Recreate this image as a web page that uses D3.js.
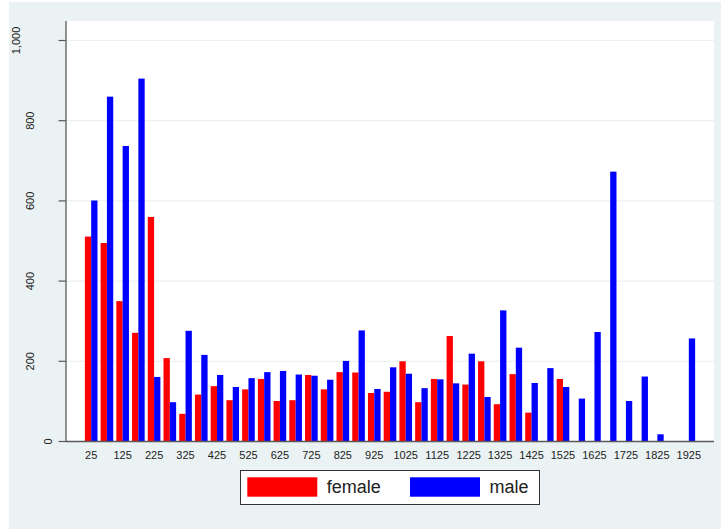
<!DOCTYPE html>
<html>
<head>
<meta charset="utf-8">
<script src="https://cdn.jsdelivr.net/npm/d3@7"></script>
<style>
  html, body { margin: 0; padding: 0; background: #ffffff; }
  svg { display: block; }
  text { font-family: "Liberation Sans", Arial, Helvetica, sans-serif; }
</style>
</head>
<body>
<svg id="chart" width="721" height="529"></svg>
<script>
// ---- data ----
const categories = [25, 75, 125, 175, 225, 275, 325, 375, 425, 475, 525, 575, 625, 675, 725, 775,
  825, 875, 925, 975, 1025, 1075, 1125, 1175, 1225, 1275, 1325, 1375, 1425, 1475, 1525, 1575,
  1625, 1675, 1725, 1775, 1825, 1875, 1925];
const female = [511, 495, 350, 271, 560, 208, 69, 117, 138, 103, 130, 156, 101, 103, 166, 130,
  173, 172, 121, 124, 200, 98, 156, 263, 142, 200, 93, 168, 72, null, 156, null,
  null, null, null, null, null, null, null];
const male = [601, 860, 737, 905, 161, 98, 276, 216, 166, 136, 158, 173, 176, 167, 164, 154,
  201, 277, 131, 185, 169, 133, 155, 145, 219, 111, 327, 234, 146, 183, 136, 107,
  273, 673, 101, 162, 18, null, 257];
const seriesNames = ["female", "male"];
const seriesColors = ["#ff0000", "#0000ff"];
const yTicks = [0, 200, 400, 600, 800, 1000];
const xTickLabels = [25, 125, 225, 325, 425, 525, 625, 725, 825, 925, 1025, 1125, 1225, 1325, 1425, 1525, 1625, 1725, 1825, 1925];

// ---- layout ----
const svg = d3.select("#chart");
const plot = { left: 66, right: 714, top: 21, bottom: 441.5 };
const bg = "#eaf2f3";
const axisColor = "#5a5a5a";
const textColor = "#222222";

svg.append("rect").attr("x", 9).attr("y", 2).attr("width", 712).attr("height", 527).attr("fill", bg);
svg.append("rect").attr("x", plot.left).attr("y", plot.top)
  .attr("width", plot.right - plot.left).attr("height", plot.bottom - plot.top).attr("fill", "#ffffff");

const y = d3.scaleLinear().domain([0, 1000]).range([plot.bottom, 40.5]);
const x = d3.scaleBand().domain(categories).range([plot.left, plot.right])
  .paddingInner(0.198).paddingOuter(1.2);
const xs = d3.scaleBand().domain(seriesNames).range([0, x.bandwidth()]);

// gridlines
svg.append("g").selectAll("line").data(yTicks.filter(d => d > 0)).join("line")
  .attr("x1", plot.left).attr("x2", plot.right)
  .attr("y1", d => y(d)).attr("y2", d => y(d))
  .attr("stroke", bg).attr("stroke-width", 1.2);

// bars
const rows = categories.map((c, i) => ({ c, vals: [female[i], male[i]] }));
const groups = svg.append("g").selectAll("g").data(rows).join("g")
  .attr("transform", d => `translate(${x(d.c)},0)`);
groups.selectAll("rect")
  .data(d => d.vals.map((v, j) => ({ v, j })).filter(e => e.v != null))
  .join("rect")
  .attr("x", e => xs(seriesNames[e.j]))
  .attr("width", xs.bandwidth())
  .attr("y", e => y(e.v))
  .attr("height", e => y(0) - y(e.v))
  .attr("fill", e => seriesColors[e.j]);

// y axis
const yAxis = svg.append("g");
yAxis.append("line").attr("x1", plot.left).attr("x2", plot.left)
  .attr("y1", plot.top).attr("y2", plot.bottom + 0.5)
  .attr("stroke", axisColor).attr("stroke-width", 1.3);
yAxis.selectAll("line.tick").data(yTicks).join("line").attr("class", "tick")
  .attr("x1", 58.5).attr("x2", plot.left)
  .attr("y1", d => y(d)).attr("y2", d => y(d))
  .attr("stroke", axisColor).attr("stroke-width", 1.2);
const fmt = d3.format(",");
yAxis.selectAll("text").data(yTicks).join("text")
  .attr("font-size", 11).attr("fill", textColor)
  .attr("text-anchor", "middle").attr("dominant-baseline", "central")
  .text(d => fmt(d))
  .each(function (d) {
    const w = this.getComputedTextLength();
    const cx = 57.4 - 1.49 * w;
    d3.select(this).attr("transform", `translate(${cx},${y(d)}) rotate(-90)`);
  });

// x axis
svg.append("line").attr("x1", plot.left).attr("x2", plot.right)
  .attr("y1", plot.bottom).attr("y2", plot.bottom)
  .attr("stroke", axisColor).attr("stroke-width", 1.3);
svg.append("g").selectAll("text").data(xTickLabels).join("text")
  .attr("x", d => x(d) + x.bandwidth() / 2)
  .attr("y", 458.5)
  .attr("text-anchor", "middle").attr("font-size", 11).attr("fill", textColor)
  .text(d => d);

// legend
const lg = svg.append("g");
lg.append("rect").attr("x", 240.5).attr("y", 470.5).attr("width", 299).attr("height", 34)
  .attr("fill", "#ffffff").attr("stroke", "#333333").attr("stroke-width", 1);
const legendX = [247.3, 410];
seriesNames.forEach((name, j) => {
  lg.append("rect").attr("x", legendX[j]).attr("y", 477.3).attr("width", 70).attr("height", 19.4)
    .attr("fill", seriesColors[j]);
  lg.append("text").attr("x", legendX[j] + 79.5).attr("y", 493.3)
    .attr("font-size", 18).attr("fill", textColor).text(name);
});
</script>
</body>
</html>
